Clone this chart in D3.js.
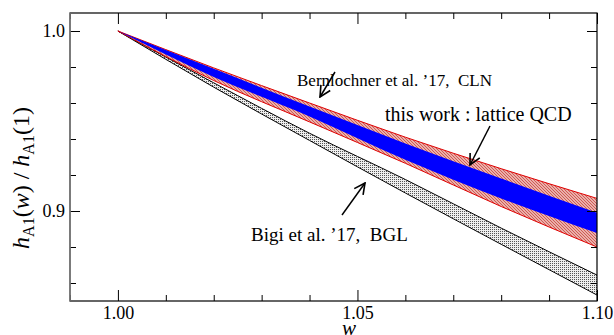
<!DOCTYPE html>
<html>
<head>
<meta charset="utf-8">
<script src="https://cdn.jsdelivr.net/npm/d3@7"></script>
<style>
  body { margin: 0; background: #fff; }
  svg { display: block; }
  svg text { font-family: "Liberation Serif", "DejaVu Serif", serif; white-space: pre; }
</style>
</head>
<body>
<div id="chart"></div>
<script>
// w grid and the band edges
const wVals  = [1.00, 1.02, 1.04, 1.06, 1.08, 1.10];
const clnHi  = [1.0, 0.9795, 0.9600, 0.9410, 0.9235, 0.9070];
const clnLo  = [1.0, 0.9725, 0.9495, 0.9265, 0.9025, 0.8800];
const lqcdHi = [1.0, 0.9790, 0.9580, 0.9375, 0.9180, 0.8990];
const lqcdLo = [1.0, 0.9745, 0.9525, 0.9285, 0.9070, 0.8878];
const bglHi  = [1.0, 0.9712, 0.9432, 0.9175, 0.8905, 0.8644];
const bglLo  = [1.0, 0.9688, 0.9392, 0.9100, 0.8815, 0.8533];

const xMajor = [1.00, 1.05, 1.10];
const xMinor = [0.99, 1.01, 1.02, 1.03, 1.04, 1.06, 1.07, 1.08, 1.09];
const yMajor = [0.9, 1.0];
const yMinor = [0.86, 0.88, 0.92, 0.94, 0.96, 0.98];

const W = 614, H = 335;
const margin = { top: 13, left: 70, right: 17, bottom: 34 };
const width = W - margin.left - margin.right;
const height = H - margin.top - margin.bottom;

const x = d3.scaleLinear().domain([0.99, 1.10]).range([0, width]);
const y = d3.scaleLinear().domain([0.85, 1.01]).range([height, 0]);

const svg = d3.select("#chart").append("svg")
  .attr("width", W).attr("height", H);

const defs = svg.append("defs");

// red hatch for the CLN band
const redPat = defs.append("pattern")
  .attr("id", "redHatch").attr("patternUnits", "userSpaceOnUse")
  .attr("width", 3).attr("height", 3);
redPat.append("rect").attr("width", 3).attr("height", 3).attr("fill", "#eab0aa");
redPat.append("path").attr("d", "M-1,-1 L4,4 M-1,2 L1,4 M2,-1 L4,1")
  .attr("stroke", "#cf5a55").attr("stroke-width", 1);

// dot grid for the BGL band
const grayPat = defs.append("pattern")
  .attr("id", "grayDots").attr("patternUnits", "userSpaceOnUse")
  .attr("width", 2).attr("height", 2);
grayPat.append("rect").attr("width", 2).attr("height", 2).attr("fill", "#eeeeee");
grayPat.append("rect").attr("width", 1).attr("height", 1).attr("fill", "#555");

// open V arrowhead
defs.append("marker")
  .attr("id", "arrow").attr("markerUnits", "userSpaceOnUse")
  .attr("viewBox", "0 0 12 12").attr("refX", 11).attr("refY", 6)
  .attr("markerWidth", 13).attr("markerHeight", 13).attr("orient", "auto")
  .append("path").attr("d", "M1,1 L11,6 L1,11")
  .attr("fill", "none").attr("stroke", "#000").attr("stroke-width", 1.5);

defs.append("clipPath").attr("id", "plotClip")
  .append("rect").attr("width", width).attr("height", height);

const g = svg.append("g").attr("transform", `translate(${margin.left},${margin.top})`);
const plot = g.append("g").attr("clip-path", "url(#plotClip)");

function band(hi, lo) {
  return wVals.map((w, i) => ({ w, hi: hi[i], lo: lo[i] }));
}
const area = d3.area().curve(d3.curveMonotoneX)
  .x(d => x(d.w)).y0(d => y(d.lo)).y1(d => y(d.hi));
const edge = key => d3.line().curve(d3.curveMonotoneX)
  .x(d => x(d.w)).y(d => y(d[key]));

function drawBand(data, fill, strokeColor) {
  plot.append("path").datum(data).attr("d", area).attr("fill", fill);
  ["hi", "lo"].forEach(k => {
    plot.append("path").datum(data).attr("d", edge(k))
      .attr("fill", "none").attr("stroke", strokeColor).attr("stroke-width", 1);
  });
}

drawBand(band(bglHi, bglLo), "url(#grayDots)", "#000");
drawBand(band(clnHi, clnLo), "url(#redHatch)", "#e00000");
plot.append("path").datum(band(lqcdHi, lqcdLo)).attr("d", area).attr("fill", "#0000ff");

// axes: ticks point inward on all four sides
function ticks(axis) {
  const a = g.append("g").call(axis);
  a.select(".domain").remove();
  a.attr("font-family", null).attr("font-size", null);
  a.selectAll("text").style("font-size", "18px").attr("fill", "#000");
  return a;
}
ticks(d3.axisBottom(x).tickValues(xMajor).tickSize(-11).tickPadding(5)
  .tickFormat(d3.format(".2f"))).attr("transform", `translate(0,${height})`);
ticks(d3.axisBottom(x).tickValues(xMinor).tickSize(-6).tickFormat(""))
  .attr("transform", `translate(0,${height})`);
ticks(d3.axisTop(x).tickValues(xMajor).tickSize(-11).tickFormat(""));
ticks(d3.axisTop(x).tickValues(xMinor).tickSize(-6).tickFormat(""));
ticks(d3.axisLeft(y).tickValues(yMajor).tickSize(-10).tickPadding(5)
  .tickFormat(d3.format(".1f")));
ticks(d3.axisLeft(y).tickValues(yMinor).tickSize(-6).tickFormat(""));
ticks(d3.axisRight(y).tickValues(yMajor).tickSize(-10).tickFormat(""))
  .attr("transform", `translate(${width},0)`);
ticks(d3.axisRight(y).tickValues(yMinor).tickSize(-6).tickFormat(""))
  .attr("transform", `translate(${width},0)`);

// frame
g.append("rect").attr("width", width).attr("height", height)
  .attr("fill", "none").attr("stroke", "#000").attr("stroke-width", 1.2);
g.append("line").attr("x1", 0).attr("x2", 0).attr("y1", 0).attr("y2", height)
  .attr("stroke", "#808080").attr("stroke-width", 1.6);

// axis titles
svg.append("text").attr("x", 349).attr("y", 335)
  .style("font-size", "21px").style("font-style", "italic")
  .attr("text-anchor", "middle").text("w");

const yl = svg.append("text")
  .attr("transform", `translate(29,178) rotate(-90)`)
  .attr("text-anchor", "middle").style("font-size", "24px");
yl.append("tspan").style("font-style", "italic").text("h");
yl.append("tspan").style("font-size", "16px").attr("dy", 5).text("A1");
yl.append("tspan").attr("dy", -5).text("(");
yl.append("tspan").style("font-style", "italic").text("w");
yl.append("tspan").text(") / ");
yl.append("tspan").style("font-style", "italic").text("h");
yl.append("tspan").style("font-size", "16px").attr("dy", 5).text("A1");
yl.append("tspan").attr("dy", -5).text("(1)");

// annotations
const notes = [
  { text: "Bernlochner et al. \u201917,  CLN", tx: 297, ty: 86, size: 17, from: [335, 72], to: [320, 97] },
  { text: "this work : lattice QCD", tx: 385, ty: 121, size: 20, from: [490, 126], to: [470, 165] },
  { text: "Bigi et al. \u201917,  BGL", tx: 251, ty: 241, size: 19, from: [342, 215], to: [365, 183] }
];
notes.forEach(n => {
  svg.append("text").attr("x", n.tx).attr("y", n.ty).style("font-size", n.size + "px")
    .attr("fill", "#000").text(n.text);
  svg.append("line").attr("x1", n.from[0]).attr("y1", n.from[1])
    .attr("x2", n.to[0]).attr("y2", n.to[1])
    .attr("stroke", "#000").attr("stroke-width", 1.5).attr("marker-end", "url(#arrow)");
});
</script>
</body>
</html>
